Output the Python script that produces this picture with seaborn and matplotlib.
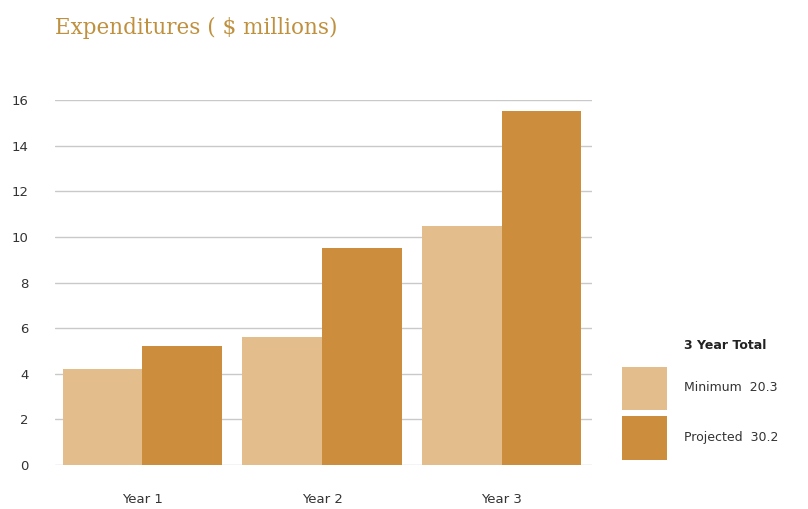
import matplotlib
matplotlib.use("Agg")
import matplotlib.pyplot as plt
import seaborn as sns
import pandas as pd

# 데이터
years = ["Year 1", "Year 2", "Year 3"]
minimum = [4.2, 5.6, 10.5]
projected = [5.2, 9.5, 15.5]
series = ["Minimum", "Projected"]
totals = [20.3, 30.2]
y_ticks = [0, 2, 4, 6, 8, 10, 12, 14, 16]

df = pd.DataFrame({
    "year": years * 2,
    "value": minimum + projected,
    "series": [series[0]] * 3 + [series[1]] * 3,
})

sns.set_style("white")
plt.rcParams['font.family'] = ['DejaVu Sans']

fig = plt.figure(figsize=(8.08, 5.09), dpi=100)
ax = fig.add_axes([0.068, 0.0864, 0.665, 0.717])

colors = ["#e4bd8c", "#cc8d3c"]
sns.barplot(data=df, x="year", y="value", hue="series", palette=colors,
            width=0.886, saturation=1, linewidth=0, edgecolor="none",
            ax=ax, zorder=2)

ax.set_xlim(-0.487, 2.504)
ax.set_ylim(0, 16)
ax.set_yticks(y_ticks)
ax.yaxis.grid(True, color="#c9c9c9", linewidth=1.0, zorder=0)
ax.set_axisbelow(True)
for s in ax.spines.values():
    s.set_visible(False)
ax.tick_params(axis="y", length=0, pad=19, labelsize=9.5, labelcolor="#333333")
ax.tick_params(axis="x", length=0, pad=20, labelsize=9.5, labelcolor="#333333")
ax.set_xlabel("")
ax.set_ylabel("")

# 범례
handles, _ = ax.get_legend_handles_labels()
labels = [f"{s}  {t}" for s, t in zip(series, totals)]
leg = ax.legend(handles, labels, loc="lower left",
                bbox_to_anchor=(1.056, 0.015), frameon=False, fontsize=9,
                handlelength=3.6, handleheight=5.0, labelspacing=0.45,
                handletextpad=1.35, borderaxespad=0, borderpad=0)
for t in leg.get_texts():
    t.set_color("#333333")

# 범례 제목은 라벨 위치에 맞춰 따로 배치
fig.canvas.draw()
bb = leg.get_texts()[0].get_window_extent().transformed(fig.transFigure.inverted())
fig.text(bb.x0, 0.322, "3 Year Total", fontsize=9, fontweight="bold",
         color="#222222", va="center", ha="left")

fig.text(0.068, 0.945, "Expenditures ( $ millions)", family="DejaVu Serif",
         fontsize=15.5, color="#bf903e", va="center")

fig.savefig("out.png", dpi=100)
